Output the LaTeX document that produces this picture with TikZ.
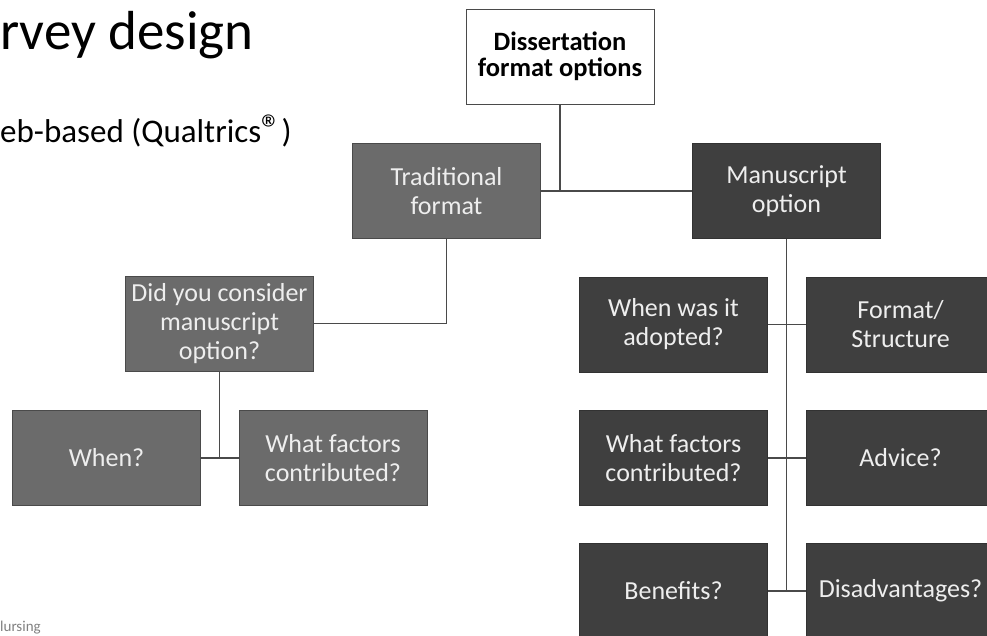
\documentclass[tikz,border=0pt]{standalone}
\usepackage{fontspec}
\setmainfont{Carlito}
\usepackage{tikz}
\usetikzlibrary{positioning}

\definecolor{tradgray}{HTML}{6B6B6B}
\definecolor{manugray}{HTML}{3F3F3F}
\definecolor{edgegray}{HTML}{4A4A4A}
\definecolor{boxtext}{HTML}{EEEEEE}

\tikzset{
  optbox/.style={draw=edgegray, line width=1pt, minimum width=188pt, minimum height=95pt,
    align=center, inner sep=1pt, font=\fontsize{26}{29}\selectfont},
  tradbox/.style={optbox, fill=tradgray, text=boxtext},
  manubox/.style={optbox, fill=manugray, text=boxtext, draw=manugray!80!black},
  link/.style={draw=edgegray, line width=1.2pt}
}

\begin{document}
\begin{tikzpicture}[x=1pt,y=-1pt]
    \useasboundingbox (0,0) rectangle (987,635);
    % slide text
    \node[anchor=base west, inner sep=0pt, font=\fontsize{55}{60}\selectfont] (title) at (0,49) {rvey design};
    \node[anchor=base west, inner sep=0pt, font=\fontsize{33}{38}\selectfont] (web) at (0,142) {eb-based (Qualtrics{\fontsize{40}{40}\selectfont\textregistered})};
    \node[anchor=base west, inner sep=0pt, text=gray, font=\fontsize{15}{17}\selectfont] (foot) at (0,631) {lursing};

    % top
    \node[optbox, fill=white, text=black, font=\bfseries\fontsize{26.5}{26}\selectfont] (top) at (560,56.5) {Dissertation\\format options};
    \node[tradbox] (trad) at (446.5,191) {Traditional\\format};
    \node[manubox] (manu) at (786.5,191) {Manuscript\\option};

    % traditional branch
    \node[tradbox] (did) at (219.5,323.5) {Did you consider\\manuscript\\option?};
    \node[tradbox] (when) at (106.5,458) {When?};
    \node[tradbox] (whatL) at (333,458) {What factors\\contributed?};

    % manuscript branch
    \node[manubox] (adopt) at (673.5,324.5) {When was it\\adopted?};
    \node[manubox] (fmt) at (900.5,324.5) {Format/\\Structure};
    \node[manubox] (whatR) at (673.5,458) {What factors\\contributed?};
    \node[manubox] (adv) at (900.5,458) {Advice?};
    \node[manubox] (ben) at (673.5,591) {Benefits?};
    \node[manubox] (dis) at (900.5,591) {Disadvantages?};

    % connectors
    \draw[link] (top.south) -- (top.south |- trad.east);
    \draw[link] (trad.east) -- (manu.west);
    \draw[link] (trad.south) -- (trad.south |- did.east) -- (did.east);
    \draw[link] (did.south) -- (did.south |- when.east);
    \draw[link] (when.east) -- (whatL.west);
    \draw[link] (manu.south) -- (manu.south |- ben.east);
    \draw[link] (adopt.east) -- (fmt.west);
    \draw[link] (whatR.east) -- (adv.west);
    \draw[link] (ben.east) -- (dis.west);
\end{tikzpicture}
\end{document}
